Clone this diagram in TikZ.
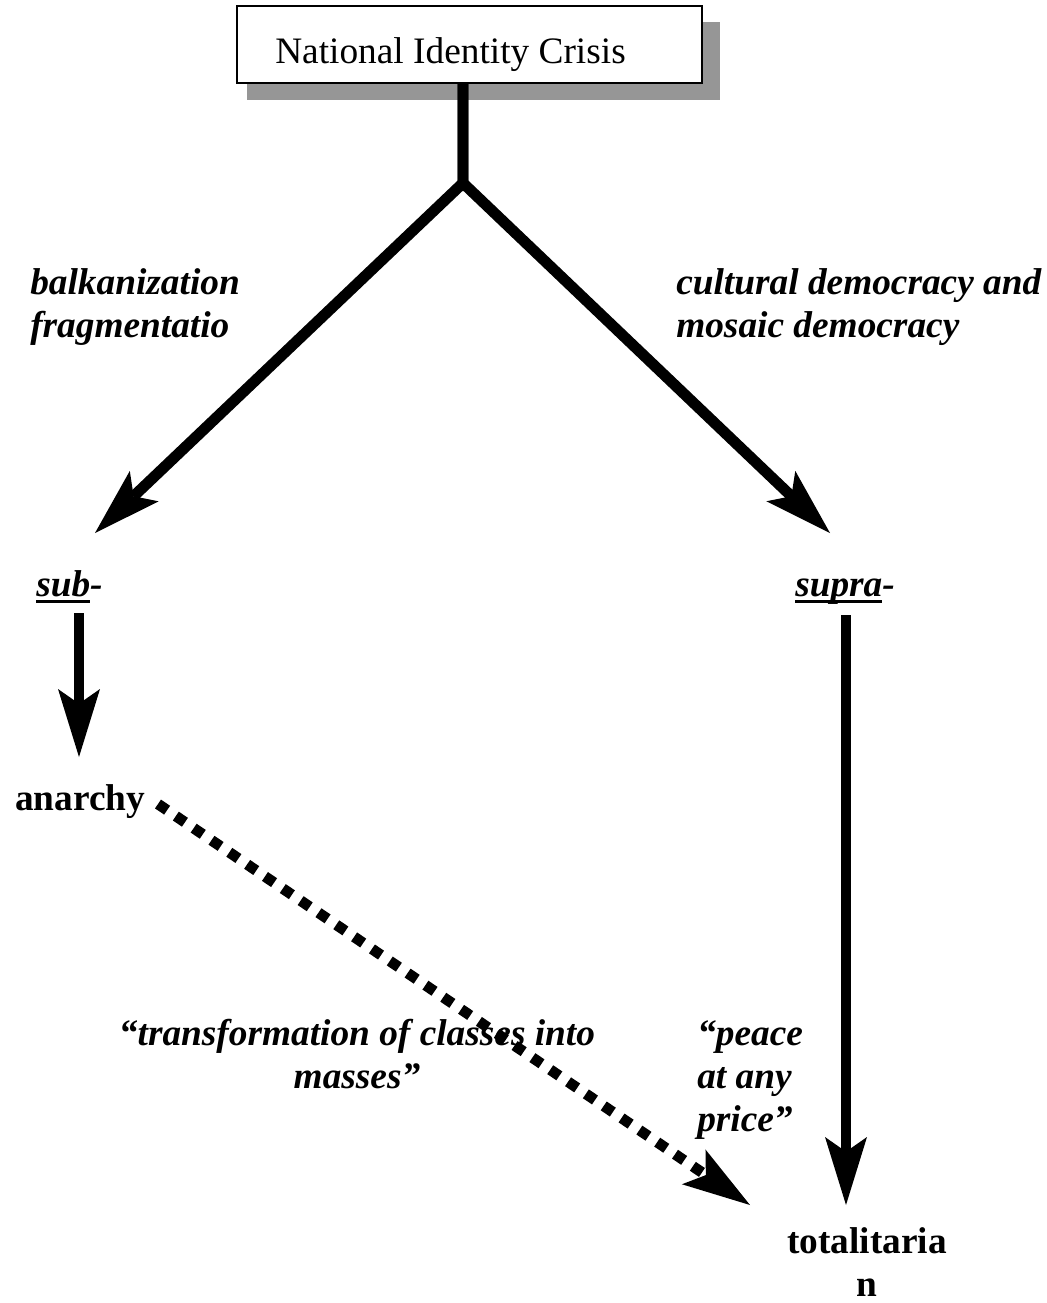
\documentclass[tikz,border=0pt]{standalone}
\usepackage{fontspec}
\setmainfont{Liberation Serif}
\usetikzlibrary{arrows.meta}
\definecolor{shadowgray}{RGB}{150,150,150}
\newcommand{\myul}[1]{\setbox0\hbox{#1}\rlap{\raisebox{-5.5pt}{\rule{\wd0}{2.2pt}}}\box0}
\begin{document}
\begin{tikzpicture}[x=0.75pt,y=-0.75pt,
  lbl/.style={inner sep=0pt, font=\fontsize{28}{32.25}\selectfont\bfseries\itshape},
  boldlbl/.style={inner sep=0pt, font=\fontsize{28}{32.25}\selectfont\bfseries},
  titlelbl/.style={inner sep=0pt, font=\fontsize{28}{32.25}\selectfont},
  crisisbox/.style={draw=black, line width=1.6pt, fill=white, minimum width=348.75pt, minimum height=57.75pt, inner sep=0pt},
  headtip/.style={-{Stealth[length=51pt,width=31.5pt,inset=11pt,line width=0pt]}},
  bigarrow/.style={line width=8.2pt, line join=miter, headtip},
  dotarrow/.style={line width=8pt, line cap=butt, dash pattern=on 8.25pt off 7.9pt, headtip}]
\useasboundingbox (0,0) rectangle (1046,1303);
% shadow and box
\fill[shadowgray] (247,22) rectangle (720,100);
\node[crisisbox] (crisis) at (469.5,44.5) {};
\node[titlelbl, anchor=base west] (crisistitle) at (275,63) {National Identity Crisis};
% coordinates
\coordinate (junction) at (463,183);
\coordinate (subtip) at (95,533);
\coordinate (supratip) at (830,533);
% labels (base anchor = baseline of last line)
\node[lbl, anchor=base west, align=left] (leftlbl) at (30,337) {balkanization\\fragmentatio};
\node[lbl, anchor=base west, align=left] (rightlbl) at (676,337) {cultural democracy and\\mosaic democracy};
\node[lbl, anchor=base west] (sub) at (36,596) {\myul{sub}-};
\node[lbl, anchor=base west] (supra) at (795,596) {\myul{supra}-};
\node[boldlbl, anchor=base west] (anarchy) at (15,810) {anarchy};
\node[lbl, anchor=base, align=center] (translbl) at (357,1088) {“transformation of classes into\\masses”};
\node[lbl, anchor=base west, align=left] (peacelbl) at (697,1131) {“peace\\at any\\price”};
\node[boldlbl, anchor=base, align=center] (total) at (867,1296) {totalitaria\\n};
% connector end points
\coordinate (substart) at (79,613);
\coordinate (anarchytip) at (79,757);
\coordinate (suprastart) at (846,615);
\coordinate (totaltip) at (846,1205);
\coordinate (dotstart) at (158,804);
\coordinate (dottip) at (750,1205);
% connectors
\draw[bigarrow] (junction |- crisis.south) -- (junction) -- (subtip);
\draw[bigarrow] (junction |- crisis.south) -- (junction) -- (supratip);
\draw[bigarrow] (substart) -- (anarchytip);
\draw[bigarrow] (suprastart) -- (totaltip);
\draw[dotarrow] (dotstart) -- (dottip);
\end{tikzpicture}
\end{document}
